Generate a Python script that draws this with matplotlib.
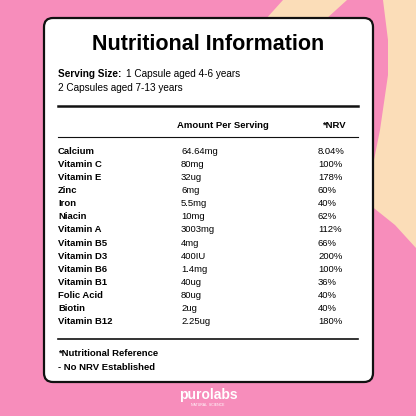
import matplotlib
matplotlib.use("Agg")
import matplotlib.pyplot as plt
from matplotlib.patches import FancyBboxPatch, Polygon

nutrients = ["Calcium","Vitamin C","Vitamin E","Zinc","Iron","Niacin","Vitamin A","Vitamin B5",
             "Vitamin D3","Vitamin B6","Vitamin B1","Folic Acid","Biotin","Vitamin B12"]
amounts = ["64.64mg","80mg","32ug","6mg","5.5mg","10mg","3003mg","4mg","400IU","1.4mg","40ug","80ug","2ug","2.25ug"]
nrv = ["8.04%","100%","178%","60%","40%","62%","112%","66%","200%","100%","36%","40%","40%","180%"]

fig = plt.figure(figsize=(4.16,4.16), dpi=100)
ax = fig.add_axes([0,0,1,1])
ax.set_xlim(0,416); ax.set_ylim(416,0); ax.axis("off")
fig.patch.set_facecolor("#F78DBB")
ax.add_patch(Polygon([(283,0),(347,0),(325,20),(265,20)], closed=True, fc="#FBDDB8", ec="none", zorder=0))
ax.add_patch(Polygon([(383,0),(416,0),(416,248),(395,225),(370,205),(370,178),(374,160),(380,130),(388,75),(388,40)],
                     closed=True, fc="#FBDDB8", ec="none", zorder=0))
ax.add_patch(FancyBboxPatch((44,18),329,364, boxstyle="round,pad=0,rounding_size=9",
                            fc="white", ec="#111111", lw=1.6, zorder=1))
f = "Liberation Sans"
ax.text(208,45,"Nutritional Information", ha="center", va="center", fontsize=15.5, weight="bold", family=f, zorder=2)
ax.text(58,74,"Serving Size:", ha="left", va="center", fontsize=7.2, weight="bold", family=f, zorder=2)
ax.text(126,74,"1 Capsule aged 4-6 years", ha="left", va="center", fontsize=7.2, family=f, zorder=2)
ax.text(58,88,"2 Capsules aged 7-13 years", ha="left", va="center", fontsize=7.2, family=f, zorder=2)
ax.plot([58,358],[106,106], color="#111", lw=1.8, zorder=2)
ax.text(223,125,"Amount Per Serving", ha="center", va="center", fontsize=6.8, weight="bold", family=f, zorder=2)
ax.text(334,125,"*NRV", ha="center", va="center", fontsize=6.8, weight="bold", family=f, zorder=2)
ax.plot([58,358],[137,137], color="#111", lw=0.8, zorder=2)
for i,(n,a,v) in enumerate(zip(nutrients,amounts,nrv)):
    y = 151 + i*13.15
    ax.text(58,y,n, ha="left", va="center", fontsize=6.8, weight="bold", family=f, zorder=2)
    ax.text(181,y,a, ha="left", va="center", fontsize=6.8, family=f, zorder=2)
    ax.text(318,y,v, ha="left", va="center", fontsize=6.8, family=f, zorder=2)
ax.plot([58,358],[339,339], color="#111", lw=1.2, zorder=2)
ax.text(58,353,"*Nutritional Reference", ha="left", va="center", fontsize=6.8, weight="bold", family=f, zorder=2)
ax.text(58,367,"- No NRV Established", ha="left", va="center", fontsize=6.8, weight="bold", family=f, zorder=2)
ax.text(208,395,"purolabs", ha="center", va="center", fontsize=10, weight="bold", color="white", family=f, zorder=2)
ax.text(208,405,"NATURAL  SCIENCE", ha="center", va="center", fontsize=2.5, color="white", family=f, zorder=2)
fig.savefig("out.png", dpi=100, facecolor=fig.get_facecolor())
